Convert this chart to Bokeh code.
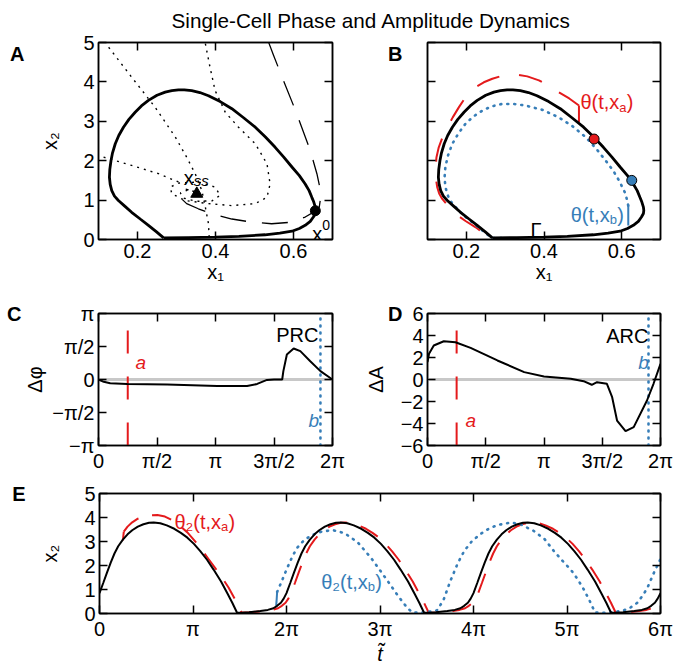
from bokeh.plotting import figure
from bokeh.layouts import column, row
from bokeh.models import Range1d, FixedTicker, LinearAxis, Label
from bokeh.embed import file_html
from bokeh.resources import INLINE

FONT = "Liberation Sans"
FS = "20px"
RED = "#e41a1c"
BLUE = "#377eb8"

TITLE_LEFT = "Single-Cell Phase and"
TITLE_RIGHT = "Amplitude Dynamics"

# ---------------- Panel A / B : phase plane ----------------
cycle_x1 = [0.267, 0.33, 0.40, 0.46, 0.527, 0.565, 0.596, 0.615, 0.630, 0.643, 0.651, 0.656, 0.657,
            0.656, 0.652, 0.647, 0.640, 0.630, 0.615, 0.596, 0.575, 0.553, 0.528, 0.502, 0.472, 0.442,
            0.412, 0.382, 0.360, 0.339, 0.320, 0.305, 0.288, 0.271, 0.250, 0.228, 0.210, 0.194, 0.178,
            0.164, 0.152, 0.143, 0.136, 0.132, 0.129, 0.128, 0.130, 0.134, 0.141, 0.151, 0.168, 0.185,
            0.207, 0.228, 0.248, 0.267]
cycle_x2 = [0.04, 0.05, 0.06, 0.08, 0.12, 0.16, 0.21, 0.28, 0.36, 0.46, 0.57, 0.66, 0.74,
            0.82, 0.95, 1.07, 1.24, 1.41, 1.62, 1.84, 2.09, 2.34, 2.60, 2.85, 3.09, 3.32,
            3.50, 3.65, 3.73, 3.78, 3.80, 3.80, 3.78, 3.74, 3.66, 3.53, 3.39, 3.23, 3.05,
            2.85, 2.64, 2.43, 2.20, 2.00, 1.78, 1.58, 1.40, 1.24, 1.10, 0.99, 0.84, 0.69,
            0.52, 0.36, 0.20, 0.04]

null1_x1 = [0.126, 0.185, 0.245, 0.297, 0.326, 0.348, 0.365, 0.374, 0.382, 0.384]
null1_x2 = [4.88, 4.12, 3.36, 2.60, 2.09, 1.67, 1.24, 0.82, 0.40, 0.0]

spiral_x1 = [0.374, 0.386, 0.399, 0.425, 0.459, 0.502, 0.532, 0.540, 0.532, 0.502, 0.442, 0.382,
             0.322, 0.288, 0.284, 0.305, 0.356, 0.399, 0.412, 0.391, 0.350, 0.318, 0.310, 0.330, 0.352]
spiral_x2 = [4.97, 4.37, 3.78, 3.23, 2.85, 2.43, 1.92, 1.41, 1.07, 0.91, 0.86, 0.91,
             0.99, 1.16, 1.33, 1.43, 1.46, 1.33, 1.12, 0.98, 0.97, 1.05, 1.18, 1.26, 1.20]

left_x1 = [0.113, 0.185, 0.254, 0.305]
left_x2 = [2.09, 1.88, 1.67, 1.46]

iso_x1 = [0.536, 0.549, 0.574, 0.600, 0.621, 0.643, 0.660, 0.671, 0.666, 0.656, 0.630, 0.596,
          0.544, 0.493, 0.442, 0.391, 0.356, 0.326, 0.309, 0.308, 0.318, 0.331]
iso_x2 = [5.01, 4.67, 4.04, 3.40, 2.85, 2.26, 1.67, 1.16, 0.82, 0.72, 0.57, 0.44,
          0.40, 0.44, 0.52, 0.65, 0.78, 0.91, 1.07, 1.20, 1.29, 1.26]

xss_x1, xss_x2 = [0.352], [1.16]
x0_x1, x0_x2 = [0.656], [0.73]

redB_kick_x1, redB_kick_x2 = [0.49, 0.49], [2.98, 3.40]
redB_x1 = [0.49, 0.465, 0.438, 0.412, 0.387, 0.357, 0.327, 0.297, 0.267, 0.245, 0.224, 0.200, 0.181,
           0.165, 0.151, 0.138, 0.129, 0.123, 0.121, 0.121, 0.125, 0.130, 0.138, 0.154, 0.172, 0.198,
           0.224, 0.243, 0.262, 0.300]
redB_x2 = [3.40, 3.58, 3.74, 3.90, 4.04, 4.14, 4.19, 4.17, 4.08, 3.99, 3.87, 3.64, 3.36,
           3.10, 2.85, 2.58, 2.34, 2.08, 1.84, 1.58, 1.33, 1.17, 1.03, 0.84, 0.65, 0.47,
           0.31, 0.17, 0.04, 0.035]
blueB_kick_x1, blueB_kick_x2 = [0.617, 0.617], [0.355, 0.86]
blueB_x1 = [0.617, 0.610, 0.593, 0.578, 0.559, 0.534, 0.507, 0.474, 0.438, 0.396, 0.353, 0.322,
            0.292, 0.265, 0.241, 0.218, 0.198, 0.180, 0.164, 0.153, 0.146, 0.144, 0.146, 0.153,
            0.164, 0.180, 0.198, 0.220, 0.241, 0.255, 0.267, 0.300]
blueB_x2 = [0.86, 1.16, 1.50, 1.75, 2.00, 2.31, 2.60, 2.87, 3.10, 3.29, 3.40, 3.44,
            3.44, 3.38, 3.27, 3.12, 2.94, 2.70, 2.43, 2.14, 1.84, 1.58, 1.33, 1.10,
            0.91, 0.74, 0.57, 0.40, 0.23, 0.12, 0.04, 0.035]
dot_a_x1, dot_a_x2 = [0.529], [2.55]
dot_b_x1, dot_b_x2 = [0.626], [1.50]

# ---------------- Panel C / D : response curves (phase in units of pi) ----------------
prc_phase = [0, 0.045, 0.10, 0.245, 0.586, 1.015, 1.27, 1.356, 1.44, 1.50, 1.57, 1.58, 1.61,
             1.668, 1.725, 1.81, 1.897, 2.0]
prc_val = [0, -0.035, -0.057, -0.067, -0.076, -0.10, -0.10, -0.067, -0.006, 0.0, 0.0, 0.127, 0.38,
           0.47, 0.43, 0.277, 0.127, 0.0]
arc_phase = [0, 0.013, 0.054, 0.14, 0.24, 0.37, 0.6, 0.83, 1.0, 1.23, 1.34, 1.41, 1.455, 1.54,
             1.585, 1.627, 1.70, 1.77, 1.884, 1.94, 2.0]
arc_val = [1.58, 2.33, 3.09, 3.48, 3.39, 2.88, 1.73, 0.67, 0.27, 0.06, -0.15, -0.48, -0.24, -0.39,
           -1.61, -3.73, -4.7, -4.33, -1.91, -0.39, 1.42]
phase_a = 0.25
phase_b = 1.897

# ---------------- Panel E : time courses (t in units of pi) ----------------
E_t_black = [0, 0.04, 0.08, 0.12, 0.16, 0.20, 0.25, 0.30, 0.35, 0.41, 0.47, 0.53, 0.58, 0.65, 0.72,
             0.80, 0.87, 0.94, 1.01, 1.08, 1.15, 1.22, 1.30, 1.37, 1.42, 1.47, 1.52, 1.60, 1.72, 1.80,
             1.86, 1.90, 1.94, 1.97,
             2.00, 2.04, 2.08, 2.12, 2.16, 2.20, 2.25, 2.30, 2.35, 2.41, 2.47, 2.53, 2.58, 2.65, 2.72,
             2.80, 2.87, 2.94, 3.01, 3.08, 3.15, 3.22, 3.30, 3.37, 3.42, 3.47, 3.52, 3.60, 3.72, 3.80,
             3.86, 3.90, 3.94, 3.97,
             4.00, 4.04, 4.08, 4.12, 4.16, 4.20, 4.25, 4.30, 4.35, 4.41, 4.47, 4.53, 4.58, 4.65, 4.72,
             4.80, 4.87, 4.94, 5.01, 5.08, 5.15, 5.22, 5.30, 5.37, 5.42, 5.47, 5.52, 5.60, 5.72, 5.80,
             5.86, 5.90, 5.94, 5.97, 6.00]
E_x2_black = [0.85, 1.27, 1.70, 2.12, 2.50, 2.80, 3.08, 3.30, 3.47, 3.62, 3.72, 3.78, 3.79, 3.76, 3.67,
              3.53, 3.36, 3.16, 2.90, 2.59, 2.24, 1.83, 1.33, 0.82, 0.45, 0.04, 0.03, 0.05, 0.10, 0.15,
              0.22, 0.32, 0.45, 0.62,
              0.85, 1.27, 1.70, 2.12, 2.50, 2.80, 3.08, 3.30, 3.47, 3.62, 3.72, 3.78, 3.79, 3.76, 3.67,
              3.53, 3.36, 3.16, 2.90, 2.59, 2.24, 1.83, 1.33, 0.82, 0.45, 0.04, 0.03, 0.05, 0.10, 0.15,
              0.22, 0.32, 0.45, 0.62,
              0.85, 1.27, 1.70, 2.12, 2.50, 2.80, 3.08, 3.30, 3.47, 3.62, 3.72, 3.78, 3.79, 3.76, 3.67,
              3.53, 3.36, 3.16, 2.90, 2.59, 2.24, 1.83, 1.33, 0.82, 0.45, 0.04, 0.03, 0.05, 0.10, 0.15,
              0.22, 0.32, 0.45, 0.62, 0.85]

E_red_kick_t, E_red_kick_x2 = [0.25, 0.26], [3.05, 3.41]
E_t_red = [0.26, 0.30, 0.35, 0.41, 0.47, 0.55, 0.62, 0.70, 0.78, 0.85, 0.94, 1.03, 1.10, 1.17, 1.24,
           1.31, 1.38, 1.44, 1.49, 1.52, 1.60, 1.75, 1.85, 1.91, 1.95, 1.99, 2.02,
           2.05, 2.09, 2.13, 2.17, 2.21, 2.25, 2.30, 2.35, 2.40, 2.46, 2.52, 2.58, 2.63, 2.70, 2.77,
           2.85, 2.92, 2.99, 3.06, 3.13, 3.20, 3.27, 3.35, 3.42, 3.47, 3.52, 3.57, 3.65, 3.77, 3.85,
           3.91, 3.95, 3.99, 4.02,
           4.05, 4.09, 4.13, 4.17, 4.21, 4.25, 4.30, 4.35, 4.40, 4.46, 4.52, 4.58, 4.63, 4.70, 4.77,
           4.85, 4.92, 4.99, 5.06, 5.13, 5.20, 5.27, 5.35, 5.42, 5.47, 5.52, 5.57, 5.65, 5.77, 5.85,
           5.91, 5.95, 5.99, 6.00]
E_x2_red = [3.41, 3.62, 3.80, 3.95, 4.04, 4.09, 4.10, 4.04, 3.88, 3.68, 3.38, 2.97, 2.62, 2.25, 1.88,
            1.50, 1.08, 0.66, 0.25, 0.04, 0.05, 0.10, 0.15, 0.22, 0.32, 0.45, 0.62,
            0.85, 1.27, 1.70, 2.12, 2.50, 2.80, 3.08, 3.30, 3.47, 3.62, 3.72, 3.78, 3.79, 3.76, 3.67,
            3.53, 3.36, 3.16, 2.90, 2.59, 2.24, 1.83, 1.33, 0.82, 0.45, 0.04, 0.03, 0.05, 0.10, 0.15,
            0.22, 0.32, 0.45, 0.62,
            0.85, 1.27, 1.70, 2.12, 2.50, 2.80, 3.08, 3.30, 3.47, 3.62, 3.72, 3.78, 3.79, 3.76, 3.67,
            3.53, 3.36, 3.16, 2.90, 2.59, 2.24, 1.83, 1.33, 0.82, 0.45, 0.04, 0.03, 0.05, 0.10, 0.15,
            0.22, 0.32, 0.45, 0.48]

E_blue_kick_t, E_blue_kick_x2 = [1.89, 1.90], [0.32, 0.90]
E_t_blue = [1.90, 1.95, 2.00, 2.06, 2.11, 2.18, 2.26, 2.38, 2.50, 2.62, 2.76, 2.90, 3.00, 3.11, 3.19,
            3.25, 3.30, 3.35, 3.45, 3.53, 3.61, 3.68, 3.75, 3.83, 3.90, 3.98, 4.07, 4.15, 4.25, 4.40,
            4.50, 4.64, 4.76, 4.86, 4.95, 5.04, 5.11, 5.18, 5.24, 5.30, 5.40, 5.50, 5.60, 5.68, 5.75,
            5.81, 5.86, 5.93, 6.00]
E_x2_blue = [0.90, 1.35, 1.83, 2.35, 2.72, 3.02, 3.25, 3.42, 3.47, 3.35, 2.97, 2.34, 1.80, 1.20, 0.75,
             0.44, 0.20, 0.04, 0.04, 0.08, 0.13, 0.57, 1.33, 2.08, 2.60, 3.00, 3.30, 3.50, 3.68, 3.79,
             3.72, 3.45, 3.10, 2.60, 2.20, 1.83, 1.45, 1.00, 0.55, 0.04, 0.03, 0.06, 0.12, 0.25, 0.44,
             0.75, 1.07, 1.70, 2.27]

# ---------------- ticks ----------------
xy_xticks = [0.2, 0.4, 0.6]
xy_yticks = [0, 1, 2, 3, 4, 5]
phase_ticks = [0, 0.5, 1, 1.5, 2]
phase_labels = ["0", "π/2", "π", "3π/2", "2π"]
prc_ticks = [-1, -0.5, 0, 0.5, 1]
prc_labels = ["−π", "−π/2", "0", "π/2", "π"]
arc_ticks = [-6, -4, -2, 0, 2, 4, 6]
arc_labels = ["−6", "−4", "−2", "0", "2", "4", "6"]
E_xticks = [0, 1, 2, 3, 4, 5, 6]
E_xlabels = ["0", "π", "2π", "3π", "4π", "5π", "6π"]
E_yticks = [0, 1, 2, 3, 4, 5]


def mk_axis(ticks, labels, show, axlabel=None, standoff=0, label_style="normal"):
    ax = LinearAxis(ticker=FixedTicker(ticks=ticks), major_tick_in=8, major_tick_out=0,
                    minor_tick_line_color=None, axis_line_color="black", axis_line_width=1.5,
                    major_tick_line_color="black", major_tick_line_width=1.5,
                    major_label_text_font=FONT, major_label_text_color="black",
                    major_label_text_font_size=FS if show else "0px",
                    major_label_standoff=4 if show else 0)
    if not show:
        ax.major_label_overrides = {t: "" for t in ticks}
    elif labels is not None:
        ax.major_label_overrides = {t: l for t, l in zip(ticks, labels)}
    if axlabel:
        ax.axis_label = axlabel
        ax.axis_label_text_font = FONT
        ax.axis_label_text_font_size = FS
        ax.axis_label_text_font_style = label_style
        ax.axis_label_text_color = "black"
        ax.axis_label_standoff = standoff
    return ax


def text_axis(p, side, pos, text, standoff, size=FS, style="bold", axlabel=None, axstandoff=0):
    """An axis without line or ticks that only carries a text outside the frame."""
    ax = LinearAxis(ticker=FixedTicker(ticks=[pos]), major_label_overrides={pos: text},
                    major_tick_in=0, major_tick_out=0, axis_line_color=None,
                    major_tick_line_color=None, minor_tick_line_color=None,
                    major_label_text_font=FONT, major_label_text_font_size=size,
                    major_label_text_font_style=style, major_label_text_color="black",
                    major_label_standoff=standoff)
    if axlabel:
        ax.axis_label = axlabel
        ax.axis_label_text_font = FONT
        ax.axis_label_text_font_size = FS
        ax.axis_label_text_font_style = "normal"
        ax.axis_label_text_color = "black"
        ax.axis_label_standoff = axstandoff
    p.add_layout(ax, side)


def panel(w, h, bl, br, bt, bb, xr, yr, xt, yt, xl=None, yl=None, show_x=True, show_y=True,
          xlab=None, ylab=None, xs=0, ys=0, xstyle="normal"):
    p = figure(width=w, height=h, x_range=Range1d(*xr), y_range=Range1d(*yr),
               output_backend="svg", toolbar_location=None, x_axis_type=None, y_axis_type=None,
               min_border_left=bl, min_border_right=br, min_border_top=bt, min_border_bottom=bb)
    p.outline_line_color = "black"
    p.outline_line_width = 1.5
    p.add_layout(mk_axis(xt, xl, show_x, xlab, xs, xstyle), "below")
    p.add_layout(mk_axis(yt, yl, show_y, ylab, ys), "left")
    p.add_layout(mk_axis(xt, None, False), "above")
    p.add_layout(mk_axis(yt, None, False), "right")
    return p


def lab(p, x, y, text, color="black", size=FS, align="left", style="normal", xo=0, yo=0):
    p.add_layout(Label(x=x, y=y, text=text, text_color=color, text_font=FONT, text_font_size=size,
                       text_align=align, text_baseline="alphabetic", text_font_style=style,
                       x_offset=xo, y_offset=yo))


def sublab(p, x, y, main, sub, tail, color, sub_w=7.5):
    lab(p, x, y, main, color, align="right")
    lab(p, x, y, sub, color, size="13px", yo=-5)
    lab(p, x, y, tail, color, xo=sub_w)


DOT = "2 5"
DOTB = "1 6"

# ---- A ----
pA = panel(380, 290, 98, 48, 42, 51, (0.1, 0.7), (0, 5), xy_xticks, xy_yticks,
           xlab="x₁", ylab="x₂", xs=0, ys=19)
text_axis(pA, "left", 4.7, "A", 12)
text_axis(pA, "above", 0.5497, TITLE_LEFT, 11, size="20.7px", style="normal")
pA.line(null1_x1, null1_x2, line_color="black", line_width=1.4, line_dash=DOT)
pA.line(spiral_x1, spiral_x2, line_color="black", line_width=1.4, line_dash=DOT)
pA.line(left_x1, left_x2, line_color="black", line_width=1.4, line_dash=DOT)
pA.line(iso_x1, iso_x2, line_color="black", line_width=1.3, line_dash="26 16")
pA.line(cycle_x1, cycle_x2, line_color="black", line_width=2.8)
pA.scatter(xss_x1, xss_x2, marker="triangle", size=12, color="black")
pA.scatter(x0_x1, x0_x2, marker="circle", size=10, color="black")
lab(pA, 0.344, 1.55, "x", align="right")
lab(pA, 0.344, 1.55, "ss", size="15px", style="italic", yo=-2)
lab(pA, 0.674, 0.15, "x", align="right")
lab(pA, 0.674, 0.15, "0", size="14px", yo=9)

# ---- B ----
pB = panel(295, 290, 47, 15, 42, 51, (0.1, 0.7), (0, 5), xy_xticks, xy_yticks,
           show_y=False, xlab="x₁", xs=0)
text_axis(pB, "left", 4.7, "B", 25)
text_axis(pB, "above", 0.2236, TITLE_RIGHT, 11, size="20.7px", style="normal")
pB.line(redB_x1, redB_x2, line_color=RED, line_width=2, line_dash="24 20")
pB.line(redB_kick_x1, redB_kick_x2, line_color=RED, line_width=2)
pB.line(blueB_x1, blueB_x2, line_color=BLUE, line_width=2.6, line_dash=DOTB, line_cap="round")
pB.line(blueB_kick_x1, blueB_kick_x2, line_color=BLUE, line_width=2)
pB.line(cycle_x1, cycle_x2, line_color="black", line_width=2.8)
pB.scatter(dot_a_x1, dot_a_x2, marker="circle", size=10, fill_color=RED, line_color="black")
pB.scatter(dot_b_x1, dot_b_x2, marker="circle", size=10, fill_color=BLUE, line_color="black")
sublab(pB, 0.594, 3.48, "θ(t,x", "a", ")", RED)
sublab(pB, 0.569, 0.63, "θ(t,x", "b", ")", BLUE)
lab(pB, 0.365, 0.23, "Γ")

# ---- C ----
pC = panel(360, 185, 98, 28, 23, 30, (0, 2), (-1, 1), phase_ticks, prc_ticks,
           xl=phase_labels, yl=prc_labels, ylab="Δφ", ys=3)
text_axis(pC, "left", 1.0, "C", 0)
pC.line([0, 2], [0, 0], line_color="#c8c8c8", line_width=3)
pC.line([phase_a, phase_a], [-1, 1], line_color=RED, line_width=2, line_dash="23 23")
pC.line([phase_b, phase_b], [-1, 1], line_color=BLUE, line_width=2.6, line_dash=DOTB, line_cap="round")
pC.line(prc_phase, prc_val, line_color="black", line_width=2)
lab(pC, 0.316, 0.258, "a", RED, size="19px", style="italic")
lab(pC, 1.795, -0.62, "b", BLUE, size="19px", style="italic")
lab(pC, 1.88, 0.667, "PRC", align="right")

# ---- D ----
pD = panel(315, 185, 67, 15, 23, 30, (0, 2), (-6, 6), phase_ticks, arc_ticks,
           xl=phase_labels, yl=arc_labels)
text_axis(pD, "left", 6.0, "D", -5, axlabel="ΔA", axstandoff=-2)
pD.line([0, 2], [0, 0], line_color="#c8c8c8", line_width=3)
pD.line([phase_a, phase_a], [-6, 6], line_color=RED, line_width=2, line_dash="23 23")
pD.line([phase_b, phase_b], [-6, 6], line_color=BLUE, line_width=2.6, line_dash=DOTB, line_cap="round")
pD.line(arc_phase, arc_val, line_color="black", line_width=2)
lab(pD, 0.326, -3.7, "a", RED, size="19px", style="italic")
lab(pD, 1.81, 1.55, "b", BLUE, size="19px", style="italic")
lab(pD, 1.897, 4.0, "ARC", align="right")

# ---- E ----
pE = panel(675, 192, 99, 15, 18, 42, (0, 6), (0, 5), E_xticks, E_yticks,
           xl=E_xlabels, ylab="x₂", xlab="t̃", xs=0, ys=20, xstyle="italic")
text_axis(pE, "left", 5.0, "E", 11)
pE.line(E_t_red, E_x2_red, line_color=RED, line_width=2, line_dash="20 14")
pE.line(E_red_kick_t, E_red_kick_x2, line_color=RED, line_width=2)
pE.line(E_t_blue, E_x2_blue, line_color=BLUE, line_width=2.6, line_dash=DOTB, line_cap="round")
pE.line(E_blue_kick_t, E_blue_kick_x2, line_color=BLUE, line_width=2)
pE.line(E_t_black, E_x2_black, line_color="black", line_width=2)
sublab(pE, 1.30, 3.83, "θ₂(t,x", "a", ")", RED)
sublab(pE, 2.87, 1.33, "θ₂(t,x", "b", ")", BLUE)

layout = column(row(pA, pB), row(pC, pD), pE)
open("out.html", "w").write(file_html(layout, INLINE))
